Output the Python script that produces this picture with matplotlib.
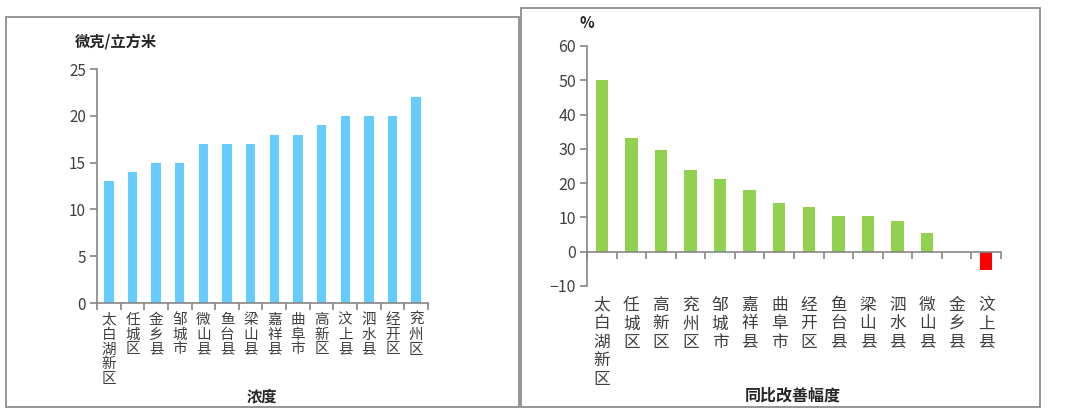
import matplotlib
matplotlib.use("Agg")
import matplotlib.pyplot as plt
from matplotlib.patches import Rectangle

plt.rcParams['font.family'] = ['Noto Sans CJK SC', 'DejaVu Sans']

# left panel: concentration
conc_names = ['太白湖新区', '任城区', '金乡县', '邹城市', '微山县', '鱼台县', '梁山县',
              '嘉祥县', '曲阜市', '高新区', '汶上县', '泗水县', '经开区', '兖州区']
conc_vals = [13, 14, 15, 15, 17, 17, 17, 18, 18, 19, 20, 20, 20, 22]

# right panel: year-on-year improvement
imp_names = ['太白湖新区', '任城区', '高新区', '兖州区', '邹城市', '嘉祥县', '曲阜市',
             '经开区', '鱼台县', '梁山县', '泗水县', '微山县', '金乡县', '汶上县']
imp_vals = [50, 33.3, 29.6, 23.9, 21.1, 18.1, 14.2, 13.0, 10.5, 10.5, 9.1, 5.6, 0, -5.3]

W, H = 1080, 412
fig = plt.figure(figsize=(W / 100, H / 100), dpi=100)

def box(x0, y0, x1, y1):
    # pixel coords (top-left origin) -> figure fraction
    return [x0 / W, 1 - y1 / H, (x1 - x0) / W, (y1 - y0) / H]

axc = '#868686'
txt = '#404040'

def style(ax, ysize):
    for s in ['top', 'right']:
        ax.spines[s].set_visible(False)
    ax.spines['left'].set_color(axc)
    ax.spines['bottom'].set_color(axc)
    ax.spines['left'].set_linewidth(1.2)
    ax.spines['bottom'].set_linewidth(1.2)
    ax.tick_params(axis='y', colors=axc, labelcolor=txt, labelsize=ysize, length=5, width=1.2, pad=3)
    ax.tick_params(axis='x', which='major', length=0, labelcolor=txt, labelsize=10.5, pad=7)
    ax.tick_params(axis='x', which='minor', colors=axc, length=5, width=1.2, direction='out')
    ax.set_facecolor('none')

# panel borders
fig.patches.append(Rectangle((6 / W, 1 - 407 / H), 513 / W, 390 / H, transform=fig.transFigure,
                             fill=False, edgecolor='#8c8c8c', linewidth=1.3))
fig.patches.append(Rectangle((521 / W, 1 - 407 / H), 519 / W, 399 / H, transform=fig.transFigure,
                             fill=False, edgecolor='#8c8c8c', linewidth=1.3))

# left chart
ax1 = fig.add_axes(box(97, 69, 428, 303))
x1 = range(len(conc_vals))
ax1.bar(x1, conc_vals, width=0.4, color='#66CCFF')
ax1.set_xlim(-0.5, len(conc_vals) - 0.5)
ax1.set_ylim(0, 25)
ax1.set_yticks([0, 5, 10, 15, 20, 25])
ax1.set_xticks(list(x1))
ax1.set_xticklabels(['\n'.join(n) for n in conc_names], linespacing=1.08, va='top')
ax1.set_xticks([i - 0.5 for i in range(len(conc_vals) + 1)], minor=True)
style(ax1, 11)
fig.text(75 / W, 1 - 42 / H, '微克/立方米', fontsize=11, fontweight='bold', color='#262626', va='center')
fig.text(262 / W, 1 - 396 / H, '浓度', fontsize=11, fontweight='bold', color='#262626', va='center', ha='center')

# right chart
ax2 = fig.add_axes(box(587, 46, 1001, 286))
x2 = range(len(imp_vals))
cols = ['#FF0000' if v < 0 else '#92D050' for v in imp_vals]
ax2.bar(x2, imp_vals, width=0.42, color=cols)
ax2.set_xlim(-0.5, len(imp_vals) - 0.5)
ax2.set_ylim(-10, 60)
ax2.set_yticks(range(-10, 61, 10))
ax2.spines['bottom'].set_position(('data', 0))
ax2.set_xticks(list(x2))
ax2.set_xticklabels(['\n'.join(n) for n in imp_names], linespacing=1.12, va='top', fontsize=12)
ax2.set_xticks([i - 0.5 for i in range(len(imp_vals) + 1)], minor=True)
style(ax2, 11.5)
for lab in ax2.get_xticklabels():
    lab.set_y(-0.045)
    lab.set_fontsize(12)
    lab.set_transform(ax2.get_xaxis_transform())
fig.text(587 / W, 1 - 23 / H, '%', fontsize=11, fontweight='bold', color='#262626', va='center', ha='center')
fig.text(793 / W, 1 - 395 / H, '同比改善幅度', fontsize=11.5, fontweight='bold', color='#262626', va='center', ha='center')

fig.savefig('out.png', dpi=100)
